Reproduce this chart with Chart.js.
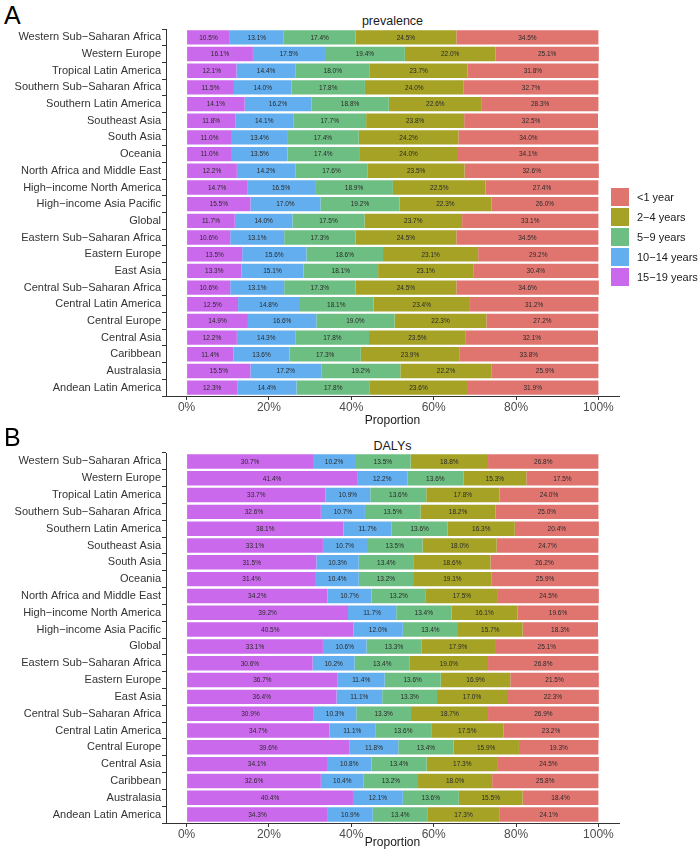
<!DOCTYPE html>
<html>
<head>
<meta charset="utf-8">
<script src="https://cdn.jsdelivr.net/npm/chart.js@4.4.1/dist/chart.umd.min.js"></script>
<style>
  body { margin: 0; background: #fff; font-family: "Liberation Sans", Arial, sans-serif; }
  #wrap { position: relative; width: 699px; height: 851px; overflow: hidden; }
  canvas { position: absolute; left: 0; }
  .tag { position: absolute; left: 4px; font-size: 25px; color: #000; line-height: 1; }
  .ptitle { position: absolute; left: 166px; width: 453px; text-align: center; font-size: 12.5px; color: #1a1a1a; line-height: 1; }
  #legend { position: absolute; left: 611px; top: 188px; }
  .item { position: relative; height: 20px; }
  .box { position: absolute; left: 0; top: 0; width: 18px; height: 18px; }
  .lab { position: absolute; left: 26px; top: 3px; font-size: 11px; color: #1a1a1a; white-space: nowrap; }
</style>
</head>
<body>
<div id="wrap">
  <div class="tag" style="top:3px">A</div>
  <div class="ptitle" style="top:15px">prevalence</div>
  <canvas id="chartA" width="699" height="428" style="top:0"></canvas>
  <div class="tag" style="top:425px">B</div>
  <div class="ptitle" style="top:440px">DALYs</div>
  <canvas id="chartB" width="699" height="423" style="top:428px"></canvas>
  <div id="legend"></div>
</div>
<script>
const regions = [
  "Western Sub−Saharan Africa", "Western Europe", "Tropical Latin America",
  "Southern Sub−Saharan Africa", "Southern Latin America", "Southeast Asia",
  "South Asia", "Oceania", "North Africa and Middle East",
  "High−income North America", "High−income Asia Pacific", "Global",
  "Eastern Sub−Saharan Africa", "Eastern Europe", "East Asia",
  "Central Sub−Saharan Africa", "Central Latin America", "Central Europe",
  "Central Asia", "Caribbean", "Australasia", "Andean Latin America"
];

// stacked left to right
const ageGroups = ["15−19 years", "10−14 years", "5−9 years", "2−4 years", "<1 year"];
const ageColors = ["#CB69EC", "#62AEEE", "#6CBE82", "#A5A226", "#E07570"];

// prevalence
const prev15to19 = [10.5, 16.1, 12.1, 11.5, 14.1, 11.8, 11.0, 11.0, 12.2, 14.7, 15.5, 11.7, 10.6, 13.5, 13.3, 10.6, 12.5, 14.9, 12.2, 11.4, 15.5, 12.3];
const prev10to14 = [13.1, 17.5, 14.4, 14.0, 16.2, 14.1, 13.4, 13.5, 14.2, 16.5, 17.0, 14.0, 13.1, 15.6, 15.1, 13.1, 14.8, 16.6, 14.3, 13.6, 17.2, 14.4];
const prev5to9 = [17.4, 19.4, 18.0, 17.8, 18.8, 17.7, 17.4, 17.4, 17.6, 18.9, 19.2, 17.5, 17.3, 18.6, 18.1, 17.3, 18.1, 19.0, 17.8, 17.3, 19.2, 17.8];
const prev2to4 = [24.5, 22.0, 23.7, 24.0, 22.6, 23.8, 24.2, 24.0, 23.5, 22.5, 22.3, 23.7, 24.5, 23.1, 23.1, 24.5, 23.4, 22.3, 23.5, 23.9, 22.2, 23.6];
const prevUnder1 = [34.5, 25.1, 31.8, 32.7, 28.3, 32.5, 34.0, 34.1, 32.6, 27.4, 26.0, 33.1, 34.5, 29.2, 30.4, 34.6, 31.2, 27.2, 32.1, 33.8, 25.9, 31.9];

// DALYs
const daly15to19 = [30.7, 41.4, 33.7, 32.6, 38.1, 33.1, 31.5, 31.4, 34.2, 39.2, 40.5, 33.1, 30.6, 36.7, 36.4, 30.9, 34.7, 39.6, 34.1, 32.6, 40.4, 34.3];
const daly10to14 = [10.2, 12.2, 10.9, 10.7, 11.7, 10.7, 10.3, 10.4, 10.7, 11.7, 12.0, 10.6, 10.2, 11.4, 11.1, 10.3, 11.1, 11.8, 10.8, 10.4, 12.1, 10.9];
const daly5to9 = [13.5, 13.6, 13.6, 13.5, 13.6, 13.5, 13.4, 13.2, 13.2, 13.4, 13.4, 13.3, 13.4, 13.6, 13.3, 13.3, 13.6, 13.4, 13.4, 13.2, 13.6, 13.4];
const daly2to4 = [18.8, 15.3, 17.8, 18.2, 16.3, 18.0, 18.6, 19.1, 17.5, 16.1, 15.7, 17.9, 19.0, 16.9, 17.0, 18.7, 17.5, 15.9, 17.3, 18.0, 15.5, 17.3];
const dalyUnder1 = [26.8, 17.5, 24.0, 25.0, 20.4, 24.7, 26.2, 25.9, 24.5, 19.6, 18.3, 25.1, 26.8, 21.5, 22.3, 26.9, 23.2, 19.3, 24.5, 25.8, 18.4, 24.1];

const xTicks = [0, 20, 40, 60, 80, 100];

const FONT = '"Liberation Sans", Arial, sans-serif';

// write the share inside every segment
const segmentLabels = {
  id: "segmentLabels",
  afterDatasetsDraw(chart) {
    const ctx = chart.ctx;
    ctx.save();
    ctx.font = "6.5px " + FONT;
    ctx.fillStyle = "#2a2a2a";
    ctx.textAlign = "center";
    ctx.textBaseline = "middle";
    chart.data.datasets.forEach((ds, i) => {
      chart.getDatasetMeta(i).data.forEach((bar, j) => {
        ctx.fillText(ds.data[j].toFixed(1) + "%", (bar.x + bar.base) / 2, bar.y + 0.5);
      });
    });
    ctx.restore();
  }
};

function makeChart(id, series, padTop, axisH, titlePad) {
  return new Chart(document.getElementById(id), {
    type: "bar",
    data: {
      labels: regions,
      datasets: series.map((d, i) => ({
        label: ageGroups[i],
        data: d,
        backgroundColor: ageColors[i],
        borderWidth: 0,
        barPercentage: 0.86,
        categoryPercentage: 1
      }))
    },
    options: {
      indexAxis: "y",
      responsive: false,
      animation: false,
      layout: { padding: { top: padTop, right: 80, left: 0, bottom: 0 } },
      plugins: { legend: { display: false }, title: { display: false }, tooltip: { enabled: false } },
      scales: {
        x: {
          stacked: true,
          min: -5,
          max: 105,
          afterBuildTicks: (s) => { s.ticks = xTicks.map(v => ({ value: v })); },
          afterFit: (s) => { s.height = axisH; },
          grid: { drawOnChartArea: false, drawTicks: true, tickLength: 4, color: "#333" },
          border: { display: true, color: "#333", width: 1 },
          ticks: { padding: 0, color: "#4d4d4d", font: { family: FONT, size: 12 }, callback: (v) => v + "%" },
          title: { display: true, text: "Proportion", color: "#1a1a1a", padding: { top: 0, bottom: titlePad }, font: { family: FONT, size: 12 } }
        },
        y: {
          stacked: true,
          afterFit: (s) => { s.width = 166; },
          grid: { drawOnChartArea: false, drawTicks: true, tickLength: 4, color: "#333" },
          border: { display: true, color: "#333", width: 1 },
          ticks: { padding: 1, color: "#333", autoSkip: false, font: { family: FONT, size: 11 } }
        }
      }
    },
    plugins: [segmentLabels]
  });
}

makeChart("chartA", [prev15to19, prev10to14, prev5to9, prev2to4, prevUnder1], 29, 32, 0);
makeChart("chartB", [daly15to19, daly10to14, daly5to9, daly2to4, dalyUnder1], 25, 28, 1);

// legend: <1 year on top, as in the reference
const legend = document.getElementById("legend");
for (let i = ageGroups.length - 1; i >= 0; i--) {
  const item = document.createElement("div");
  item.className = "item";
  item.innerHTML = '<div class="box" style="background:' + ageColors[i] + '"></div><div class="lab">' + ageGroups[i] + "</div>";
  legend.appendChild(item);
}
</script>
</body>
</html>
